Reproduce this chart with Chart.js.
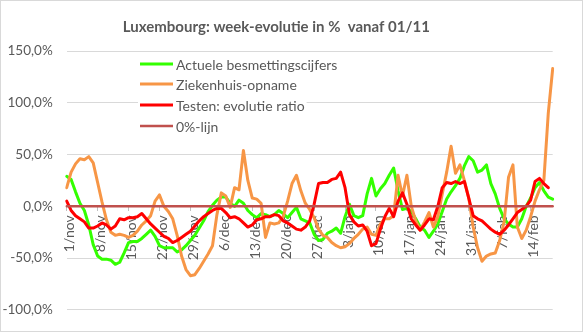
<!DOCTYPE html>
<html>
<head>
<meta charset="utf-8">
<script src="https://cdn.jsdelivr.net/npm/chart.js@4.4.1/dist/chart.umd.min.js"></script>
<style>
  html, body { margin: 0; padding: 0; background: #ffffff; }
  canvas { display: block; }
</style>
</head>
<body>
<canvas id="chart" width="583" height="332"></canvas>
<script>
// Day labels 1/nov .. 19/feb (one per day)
const months = ['nov', 'dec', 'jan', 'feb'];
const monthLengths = [30, 31, 31, 19];
const categories = [];
months.forEach((m, k) => {
  for (let day = 1; day <= monthLengths[k]; day++) categories.push(day + '/' + m);
});

// Week-on-week evolution in %
const besmettingen = [
  29, 26, 14, 3, -4, -18, -37, -48, -51, -51,
  -52, -56, -54, -45, -35, -34, -34, -31, -27, -23,
  -29, -38, -40, -40, -40, -44, -42, -38, -33, -28,
  -21, -14, -5, 1, 6, 9, 9, 3, 0, 6,
  3, -4, -8, -11, -7, -8, -10, -8, -4, -7,
  -11, -6, -1, -12, -14, -16, -27, -33, -32, -26,
  -24, -21, -26, -10, 2, -9, -11, -9, 12, 27,
  10, 17, 22, 30, 37, 15, -3, -2, -5, -12,
  -20, -23, -30, -24, -17, -5, 7, 14, 20, 27,
  39, 48, 44, 33, 35, 40, 22, 12, -2, -12,
  -17, -20, -20, -12, 0, 8, 18, 23, 15, 9,
  7
];
const ziekenhuis = [
  18, 33, 41, 46, 45, 48, 42, 23, 4, -13,
  -25, -28, -27, -28, -30, -28, -24, -18, -14, -9,
  5, 11, 0, -5, -12, -28, -48, -61, -67, -66,
  -60, -53, -46, -38, -8, 13, 10, -1, 18, 16,
  54, 25, 8, 7, 3, -30, -16, -17, -16, -10,
  5, 22, 30, 15, 3, -3, -11, -22, -28, -30,
  -35, -38, -40, -39, -36, -31, -27, -22, -20, -27,
  -28, -17, -12, -12, -9, 30, 10, 30, 0, -14,
  -23, -15, -6, -20, -10, 12, 33, 58, 32, 40,
  25, 8, -20, -40, -53, -48, -46, -45, -33, -15,
  28, 40, -20, -31, -23, -10, 5, 16, 25, 90,
  133
];
const testenRatio = [
  5, -4, -9, -12, -15, -21, -21, -19, -16, -18,
  -22, -19, -12, -13, -11, -11, -10, -7, -12, -17,
  -21, -25, -29, -31, -35, -33, -30, -27, -24, -19,
  -14, -10, -7, -4, -2, -2, -6, -11, -10, -12,
  -16, -20, -18, -13, -12, -10, -10, -8, -9, -14,
  -16, -19, -22, -23, -20, -14, 2, 22, 23, 23,
  26, 27, 33, 18, -8, -15, -19, -18, -24, -38,
  -36, -22, -10, -2, -10, 5, 13, 2, -12, -18,
  -23, -18, -12, -13, 0, 18, 23, 22, 24, 22,
  24, 8, -9, -12, -14, -18, -22, -25, -27, -23,
  -18, -12, -6, -3, 0, 6, 24, 27, 22, 18,
  null
];
const nulLijn = categories.map(() => 0);

const yTicks = [-100, -50, 0, 50, 100, 150];
const seriesNames = ['Actuele besmettingscijfers', 'Ziekenhuis-opname', 'Testen: evolutie ratio', '0%-lijn'];
const seriesColors = ['#33ff00', '#f79646', '#ff0000', '#c0504d'];

const FONT = 'Lato, "Liberation Sans", sans-serif';
const TEXT = '#595959';

// Legend drawn inside the plot, top-left
const innerLegend = {
  id: 'innerLegend',
  afterDraw(chart) {
    const ctx = chart.ctx;
    const rows = [64, 84, 105, 126];
    ctx.save();
    ctx.font = '14px ' + FONT;
    ctx.textBaseline = 'middle';
    seriesNames.forEach((name, i) => {
      const y = rows[i];
      const w = ctx.measureText(name).width;
      ctx.fillStyle = '#ffffff';
      ctx.fillRect(138, y - 8, 176 - 138 + w + 2, 16);
      ctx.strokeStyle = seriesColors[i];
      ctx.lineWidth = i === 3 ? 2.5 : 3;
      ctx.beginPath();
      ctx.moveTo(140, y);
      ctx.lineTo(173, y);
      ctx.stroke();
      ctx.fillStyle = TEXT;
      ctx.fillText(name, 176, y + 1);
    });
    ctx.restore();
  }
};

// Thin frame around the whole chart
const frame = {
  id: 'frame',
  afterDraw(chart) {
    const ctx = chart.ctx;
    ctx.save();
    ctx.strokeStyle = '#d9d9d9';
    ctx.lineWidth = 1;
    ctx.strokeRect(0.5, 0.5, chart.width - 1, chart.height - 1);
    ctx.restore();
  }
};

const lineStyle = { pointRadius: 0, pointHoverRadius: 0, tension: 0, borderJoinStyle: 'round', borderCapStyle: 'round', fill: false, spanGaps: false };

new Chart(document.getElementById('chart'), {
  type: 'line',
  data: {
    labels: categories,
    datasets: [
      Object.assign({ label: seriesNames[0], data: besmettingen, borderColor: seriesColors[0], borderWidth: 3, order: 3 }, lineStyle),
      Object.assign({ label: seriesNames[1], data: ziekenhuis, borderColor: seriesColors[1], borderWidth: 3, order: 2 }, lineStyle),
      Object.assign({ label: seriesNames[2], data: testenRatio, borderColor: seriesColors[2], borderWidth: 3, order: 1 }, lineStyle),
      Object.assign({ label: seriesNames[3], data: nulLijn, borderColor: seriesColors[3], borderWidth: 2.5, order: 0 }, lineStyle)
    ]
  },
  options: {
    responsive: false,
    animation: false,
    events: [],
    layout: { padding: { left: 0, right: 30.3, top: 0, bottom: 10 } },
    plugins: {
      legend: { display: false },
      tooltip: { enabled: false },
      title: {
        display: true,
        text: 'Luxembourg: week-evolutie in %  vanaf 01/11',
        color: TEXT,
        font: { family: FONT, size: 15, weight: 'bold', lineHeight: 1.2 },
        padding: { top: 18, bottom: 15 }
      }
    },
    scales: {
      x: {
        type: 'category',
        offset: false,
        position: { y: 0 },
        border: { display: false },
        grid: {
          display: true,
          drawOnChartArea: false,
          drawTicks: true,
          tickLength: 5,
          lineWidth: 1,
          color: (c) => (c.index % 7 === 0 ? '#bfbfbf' : 'rgba(0,0,0,0)')
        },
        ticks: {
          autoSkip: false,
          minRotation: 90,
          maxRotation: 90,
          padding: 4,
          labelOffset: 3,
          color: TEXT,
          font: { family: FONT, size: 14 },
          callback: (v, i) => (i % 7 === 0 ? categories[i] : '')
        }
      },
      y: {
        min: yTicks[0],
        max: yTicks[yTicks.length - 1],
        afterFit(scale) { scale.width = 66.7; },
        afterBuildTicks(scale) { scale.ticks = yTicks.map(v => ({ value: v })); },
        border: { display: false },
        grid: { color: '#d9d9d9', lineWidth: 1, drawTicks: false },
        ticks: {
          padding: 14,
          color: TEXT,
          font: { family: FONT, size: 13.5 },
          callback: (v) => v.toFixed(1).replace('.', ',') + '%'
        }
      }
    }
  },
  plugins: [innerLegend, frame]
});
</script>
</body>
</html>
